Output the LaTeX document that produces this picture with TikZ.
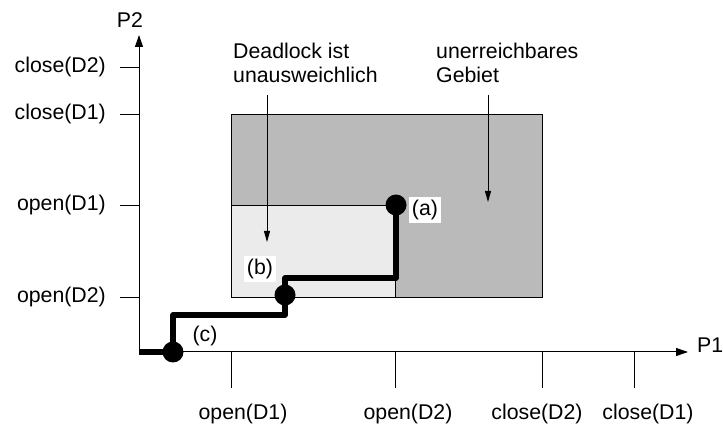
\documentclass[tikz,border=0pt]{standalone}
\usepackage{fontspec}
\setmainfont{Liberation Sans}
\usetikzlibrary{arrows.meta}
\definecolor{regiondark}{HTML}{BABABA}
\definecolor{regionlight}{HTML}{EBEBEB}
\begin{document}
\begin{tikzpicture}[x=1pt,y=-1pt,
  lbl/.style={font=\fontsize{21.3}{24}\selectfont, inner sep=0pt},
  axisline/.style={line width=1pt, -{Triangle[length=12pt,width=8pt]}},
  tickline/.style={line width=0.9pt},
  trace/.style={line width=5.5pt, line join=round},
  dot/.style={circle, fill=black, minimum size=21pt, inner sep=0pt},
  note/.style={line width=0.9pt, -{Triangle[length=11pt,width=6pt]}},
  tag/.style={lbl, fill=white, inner sep=3pt}
]
\useasboundingbox (0,0) rectangle (723,435);
% regions
\draw[fill=regiondark, line width=0.9pt] (231,114) rectangle (542,297);
\draw[fill=regionlight, line width=0.9pt] (231,205) rectangle (395,297);
% axes
\coordinate (O) at (139,352);
\coordinate (xend) at (688,352);
\coordinate (yend) at (139,35);
\draw[axisline] (O) -- (xend);
\draw[axisline] (O) -- (yend);
\node[lbl, anchor=west] (P1) at (697,345) {P1};
\node[lbl] (P2) at (130,20) {P2};
% y ticks
\foreach \yy/\t/\n in {67/close(D2)/yc2, 114/close(D1)/yc1, 205/open(D1)/yo1, 297/open(D2)/yo2}{
  \draw[tickline] (120,\yy) -- (139,\yy);
  \node[lbl, anchor=east] (\n) at (106,\yy) {\t};
}
% x ticks
\foreach \xx/\lx/\t/\n in {231/243/open(D1)/xo1, 395/408/open(D2)/xo2, 542/537/close(D2)/xc2, 634/648/close(D1)/xc1}{
  \draw[tickline] (\xx,352) -- (\xx,388);
  \node[lbl] (\n) at (\lx,414) {\t};
}
% dots
\node[dot] (c) at (173,352) {};
\node[dot] (b) at (285,295) {};
\node[dot] (a) at (396,205) {};
% trace
\draw[trace] (O) -- (c.center) -- (173,315) -| (b.center) -- (285,278) -| (a.center);
% tags
\node[tag] (ta) at (425,210) {(a)};
\node[tag] (tb) at (260,269) {(b)};
\node[lbl] (tc) at (205,336) {(c)};
% notes
\node[lbl, align=left, anchor=north west] (dl) at (233,43) {Deadlock ist\\unausweichlich};
\node[lbl, align=left, anchor=north west] (ug) at (436,43) {unerreichbares\\Gebiet};
\coordinate (dls) at (267,95);
\coordinate (dle) at (267,242);
\coordinate (ugs) at (488,95);
\coordinate (uge) at (488,202);
\draw[note] (dls) -- (dle);
\draw[note] (ugs) -- (uge);
\end{tikzpicture}
\end{document}
